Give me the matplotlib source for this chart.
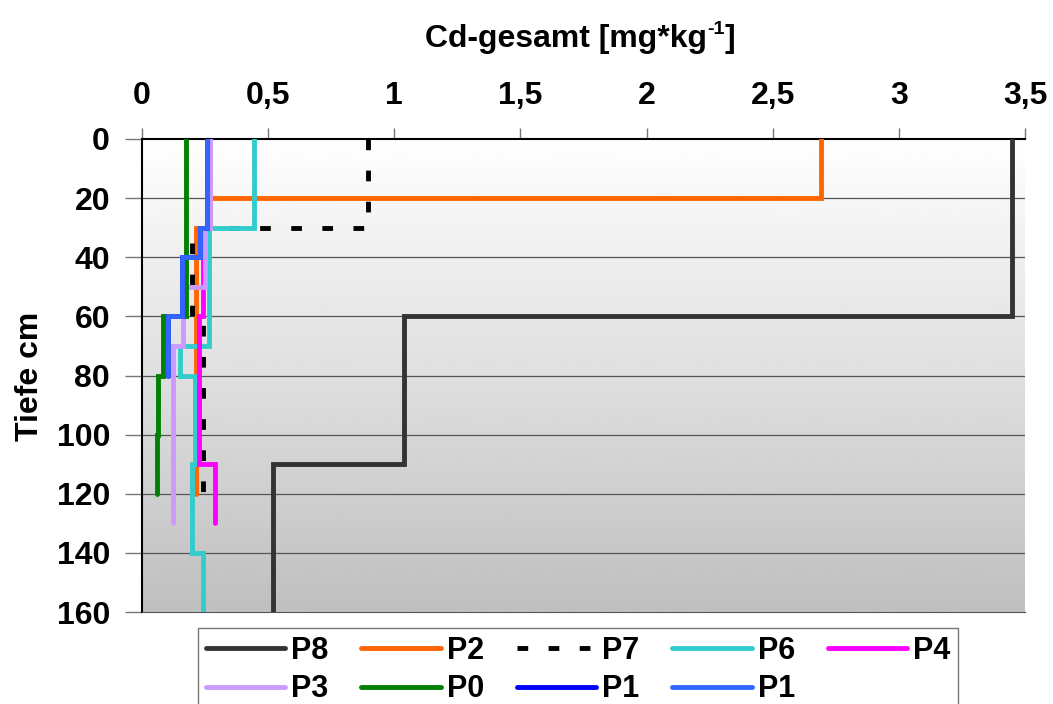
import numpy as np
import matplotlib.pyplot as plt

plt.rcParams['font.family'] = ['Liberation Sans', 'DejaVu Sans']
plt.rcParams['font.weight'] = 'bold'

# depth boundaries (cm) and Cd values (mg/kg) per layer
p8_depth = [0, 60, 110, 160]
p8_cd = [3.45, 1.04, 0.52]
p2_depth = [0, 20, 30, 120]
p2_cd = [2.69, 0.27, 0.215]
p7_depth = [0, 30, 60, 120]
p7_cd = [0.895, 0.20, 0.24]
p6_depth = [0, 30, 70, 80, 110, 140, 160]
p6_cd = [0.445, 0.266, 0.15, 0.21, 0.197, 0.242]
p4_depth = [0, 30, 60, 110, 130]
p4_cd = [0.258, 0.24, 0.225, 0.29]
p3_depth = [0, 30, 50, 70, 130]
p3_cd = [0.27, 0.25, 0.163, 0.123]
p0_depth = [0, 60, 80, 100, 120]
p0_cd = [0.174, 0.084, 0.064, 0.06]
p1_depth = [0, 30, 40, 60, 80]
p1_cd = [0.256, 0.23, 0.16, 0.103]

series = [
    ('P8', p8_depth, p8_cd, '#333333', '-'),
    ('P2', p2_depth, p2_cd, '#ff6600', '-'),
    ('P7', p7_depth, p7_cd, '#000000', (0, (2.2, 4.2))),
    ('P6', p6_depth, p6_cd, '#33cccc', '-'),
    ('P4', p4_depth, p4_cd, '#ff00ff', '-'),
    ('P3', p3_depth, p3_cd, '#cc99ff', '-'),
    ('P0', p0_depth, p0_cd, '#008000', '-'),
    ('P1', p1_depth, p1_cd, '#0000ff', '-'),
    ('P1', p1_depth, p1_cd, '#3366ff', '-'),
]

xticks = [0, 0.5, 1, 1.5, 2, 2.5, 3, 3.5]
xticklabels = ['0', '0,5', '1', '1,5', '2', '2,5', '3', '3,5']
yticks = [0, 20, 40, 60, 80, 100, 120, 140, 160]

FS = 23

fig = plt.figure(figsize=(10.53, 7.04), dpi=100)
ax = fig.add_axes([142 / 1053, 1 - 612 / 704, 883 / 1053, 473 / 704])

# gradient background, white at top to grey at bottom
grad = np.linspace(1.0, 0.75, 256).reshape(-1, 1)
ax.imshow(grad, cmap='gray', vmin=0, vmax=1, aspect='auto',
          extent=[0, 3.5, 160, 0], zorder=0, interpolation='bicubic')

for yv in yticks[1:-1]:
    ax.axhline(yv, color='#555555', lw=0.9, zorder=1)

handles = []
for name, depth, cd, color, ls in series:
    d = np.asarray(depth, dtype=float)
    y = np.column_stack([d[:-1], d[1:]]).ravel()
    x = np.repeat(cd, 2)
    h, = ax.plot(x, y, color=color, ls=ls, lw=3.5, label=name, zorder=3,
                 solid_capstyle='round', solid_joinstyle='miter')
    handles.append(h)

ax.set_xlim(0, 3.5)
ax.set_ylim(160, 0)
ax.xaxis.tick_top()
ax.set_xticks(xticks)
ax.set_xticklabels(xticklabels)
ax.set_yticks(yticks)
ax.tick_params(axis='x', length=8, width=1, color='#777777', pad=12, labelsize=FS)
ax.tick_params(axis='y', length=12, width=1, color='#777777', pad=11, labelsize=FS)
for lab in ax.get_xticklabels() + ax.get_yticklabels():
    lab.set_fontweight('bold')

ax.spines['right'].set_visible(False)
ax.spines['left'].set_color('black')
ax.spines['top'].set_color('black')
ax.spines['bottom'].set_color('#555555')
ax.spines['left'].set_linewidth(1.5)
ax.spines['top'].set_linewidth(1.5)

# title with a small raised "-1"
t1 = fig.text(425 / 1053, 1 - 47 / 704, 'Cd-gesamt [mg*kg', ha='left', va='baseline',
              fontsize=FS, fontweight='bold')
t2 = ax.annotate('-1', xy=(1, 1), xycoords=t1, xytext=(0.5, 2), textcoords='offset points',
                 ha='left', va='top', fontsize=14, fontweight='bold')
ax.annotate(']', xy=(1, 1), xycoords=t1, xytext=(13, 0), textcoords='offset points',
            ha='left', va='top', fontsize=FS, fontweight='bold')
fig.text(30 / 1053, 1 - 376 / 704, 'Tiefe cm', ha='center', va='center', rotation=90,
         fontsize=FS, fontweight='bold')

# legend fills row by row: reorder for matplotlib's column-major layout
order = [0, 5, 1, 6, 2, 7, 3, 8, 4]
leg_top = 1 - 628 / 704
leg = fig.legend([handles[i] for i in order], [series[i][0] for i in order],
                 loc='upper left', bbox_to_anchor=(198 / 1053, leg_top - 0.2, 760 / 1053, 0.2),
                 mode='expand', ncol=5,
                 fontsize=22, frameon=True, fancybox=False, edgecolor='#555555',
                 handlelength=2.6, handletextpad=0.2, columnspacing=0.5,
                 labelspacing=0.28, borderpad=0.25, borderaxespad=0)
leg.get_frame().set_linewidth(1)
for t in leg.get_texts():
    t.set_fontweight('bold')

fig.savefig('out.png', dpi=100)
